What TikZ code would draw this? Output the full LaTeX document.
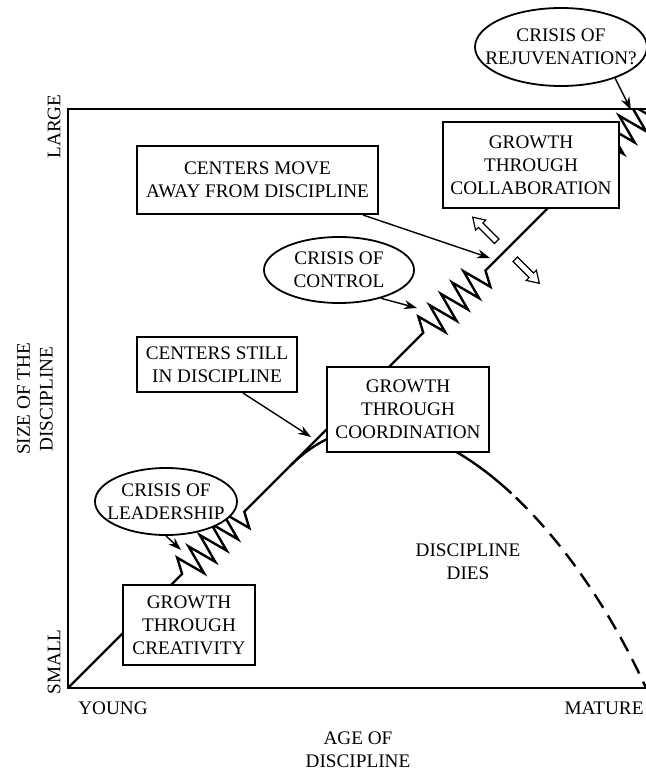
\documentclass[tikz,border=0pt]{standalone}
\usepackage{fontspec}
\setmainfont{Liberation Serif}
\usetikzlibrary{arrows.meta,shapes.geometric,shapes.arrows}

\begin{document}
\begin{tikzpicture}[
						x=0.5pt,
						y=-0.5pt,
						font=\fontsize{9.6}{11.4}\selectfont,
						frame/.style={line width=1.4pt},
						growth/.style={line width=1.2pt, line join=miter},
						stagebox/.style={draw, fill=white, line width=1pt, align=center, inner sep=0pt},
						crisis/.style={ellipse, draw, fill=white, line width=0.9pt, inner sep=0pt},
						pointer/.style={-{Stealth[length=6.5pt,width=4.5pt]}, line width=0.7pt},
						hollow/.style={single arrow, draw, fill=white, line width=0.6pt, inner sep=1.3pt, minimum height=17pt, single arrow head extend=2pt, single arrow tip angle=65},
						teeth/.style={insert path={
							--++(-4.95,-16.26) --++(26.87,15.56) --++(-15.56,-26.87) --++(26.87,15.56)
							--++(-15.56,-26.87) --++(26.87,15.56) --++(-15.56,-26.87) --++(26.87,15.56)
							--++(-15.56,-26.87) --++(26.87,15.56) --++(-4.95,-16.26)}}
					]
					\useasboundingbox (0,0) rectangle (646,770);
					\clip (0,0) rectangle (646,770);

					\coordinate (young) at (68,688);
					\coordinate (lead) at (182.1,573.9);
					\coordinate (ctrl) at (423.25,332.75);
					\coordinate (rejuv) at (601.45,154.55);
					\coordinate (split) at (290,466);
					\coordinate (fade) at (511.45,493.43);
					\coordinate (end) at (646,688);

					\draw[growth] (young) -- (lead) [teeth] -- (ctrl) [teeth] -- (rejuv);
					\begin{scope}
						\clip (560,109) rectangle (646,200);
						\draw[growth] (rejuv) [teeth];
					\end{scope}
					\draw[frame] (660,109) -| (young) -- (660,688);
					\draw[growth] (split) .. controls (354.9,401.1) and (437.2,424.6) .. (fade);
					\draw[growth, dash pattern=on 8pt off 4.5pt, dash phase=9.5pt] (fade) .. controls (563.04,541.24) and (610.74,610.92) .. (end);

					\node[stagebox, minimum width=120.5pt, minimum height=34pt] (move) at (257.5,180) {CENTERS MOVE\\AWAY FROM DISCIPLINE};
					\node[stagebox, minimum width=88pt, minimum height=43pt] (collaboration) at (531,165) {GROWTH\\THROUGH\\COLLABORATION};
					\node[stagebox, minimum width=80pt, minimum height=27.5pt] (still) at (217,364.5) {CENTERS STILL\\IN DISCIPLINE};
					\node[stagebox, minimum width=81pt, minimum height=42.5pt] (coordination) at (408,409.5) {GROWTH\\THROUGH\\COORDINATION};
					\node[stagebox, minimum width=66pt, minimum height=40pt] (creativity) at (189,625) {GROWTH\\THROUGH\\CREATIVITY};

					\node[crisis, minimum width=71pt, minimum height=33.5pt, label={[align=center]center:CRISIS OF\\LEADERSHIP}] (leadership) at (166,501.5) {};
					\node[crisis, minimum width=75pt, minimum height=33pt, label={[align=center]center:CRISIS OF\\CONTROL}] (control) at (339,270) {};
					\node[crisis, minimum width=86pt, minimum height=39pt, label={[align=center]center:CRISIS OF\\REJUVENATION?}] (rejuvenation) at (561,47) {};

					\coordinate (movetip) at (490,258);
					\coordinate (stilltip) at (311,437);
					\coordinate (leadtip) at (181,550);
					\coordinate (ctrltip) at (417,308);
					\coordinate (rejuvtip) at (631,110);

					\draw[pointer] ([xshift=-8pt]move.south east) -- (movetip);
					\draw[pointer] ([xshift=13pt]still.south) -- (stilltip);
					\draw[pointer] (leadership.south) -- (leadtip);
					\draw[pointer] (control.-34) -- (ctrltip);
					\draw[pointer] (rejuvenation.-30) -- (rejuvtip);

					\node[hollow, rotate=135] (inward) at (486.5,231) {};
					\node[hollow, rotate=-45] (outward) at (525.5,269.5) {};

					\node[align=center] (dies) at (468,561.5) {DISCIPLINE\\DIES};
					\node (youngtext) at (113,708.5) {YOUNG};
					\node (mature) at (604,708.5) {MATURE};
					\node[align=center] (age) at (358,749.5) {AGE OF\\DISCIPLINE};
					\node[rotate=90] (large) at (54,126.5) {LARGE};
					\node[rotate=90] (small) at (54,662) {SMALL};
					\node[rotate=90, align=center] (size) at (35,399) {SIZE OF THE\\DISCIPLINE};
				\end{tikzpicture}
\end{document}
